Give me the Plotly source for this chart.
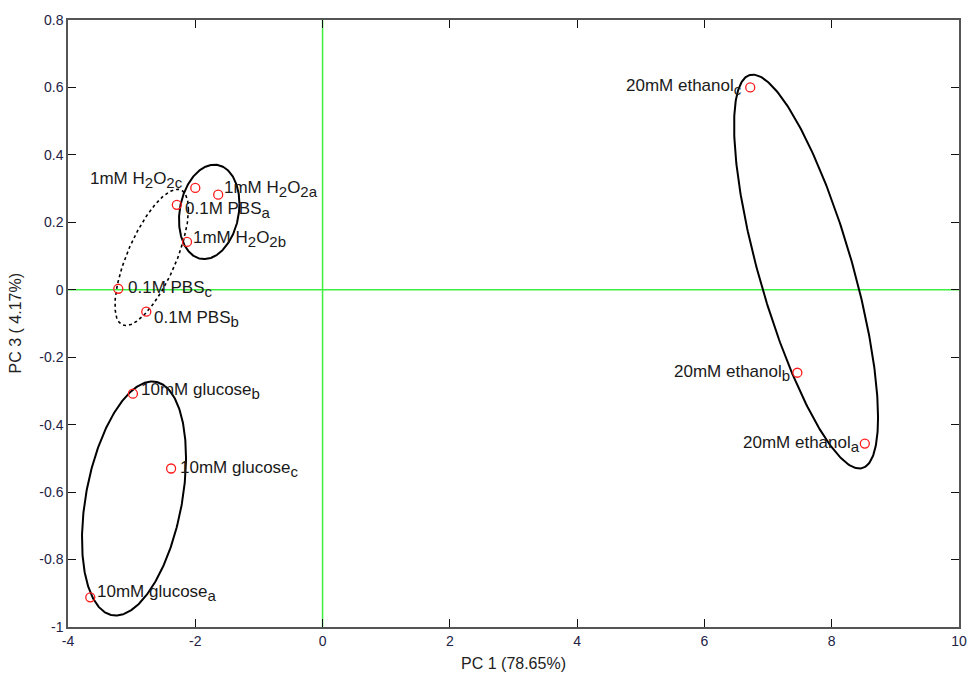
import numpy as np
import plotly.graph_objects as go

# PCA scores (PC1, PC3) for each sample
pc1 = [6.72, 7.46, 8.52, -2.98, -2.38, -3.65, -2.00, -1.64, -2.13, -2.29, -3.21, -2.77]
pc3 = [0.600, -0.246, -0.456, -0.308, -0.530, -0.912, 0.302, 0.282, 0.142, 0.252, 0.003, -0.065]
base_names = [
    "20mM ethanol", "20mM ethanol", "20mM ethanol",
    "10mM glucose", "10mM glucose", "10mM glucose",
    "1mM H|2|O", "1mM H|2|O", "1mM H|2|O",
    "0.1M PBS", "0.1M PBS", "0.1M PBS",
]
subscripts = ["c", "b", "a", "b", "c", "a", "2c", "2a", "2b", "a", "c", "b"]

# group ellipses: centre, half extents along x / y, correlation
ell_cx = [7.597, -2.963, -1.781, -2.685]
ell_cy = [0.054, -0.619, 0.231, 0.096]
ell_hx = [1.131, 0.817, 0.475, 0.577]
ell_hy = [0.584, 0.347, 0.140, 0.202]
ell_rho = [-0.74, 0.35, 0.17, 0.70]
ell_dash = ["solid", "solid", "solid", "dot"]

x_ticks = [-4, -2, 0, 2, 4, 6, 8, 10]
y_ticks = [-1, -0.8, -0.6, -0.4, -0.2, 0, 0.2, 0.4, 0.6, 0.8]
y_ticktext = ["-1", "-0.8", "-0.6", "-0.4", "-0.2", "0", "0.2", "0.4", "0.6", "0.8"]

x_title = "PC 1 (78.65%)"
y_title = "PC 3 ( 4.17%)"

# label placement: anchor side, x shift, y shift (px)
label_place = [
    ("right", -6, 0), ("right", -5, 0), ("right", -3, 0),
    ("left", 6, 3), ("left", 7, 0), ("left", 5, 4),
    ("right", -10, 8), ("left", 4, 6), ("left", 4, 3),
    ("left", 6, -5), ("left", 8, 0), ("left", 6, -7),
]

FONT = "Liberation Sans, Arial, sans-serif"
SUB = '<sub><span style="font-size:15px">{}</span></sub>'


def label_text(base, sub):
    parts = base.split("|")
    txt = parts[0]
    if len(parts) > 1:
        txt += SUB.format(parts[1]) + parts[2]
    return txt + SUB.format(sub)


fig = go.Figure()

# reference axes through the origin
fig.add_trace(go.Scatter(x=[-4, 10], y=[0, 0], mode="lines",
                         line=dict(color="#3ef03e", width=1.5), hoverinfo="skip"))
fig.add_trace(go.Scatter(x=[0, 0], y=[-1, 0.8], mode="lines",
                         line=dict(color="#3ef03e", width=1.5), hoverinfo="skip"))

t = np.linspace(0, 2 * np.pi, 361)
for cx, cy, hx, hy, rho, dash in zip(ell_cx, ell_cy, ell_hx, ell_hy, ell_rho, ell_dash):
    ex = cx + hx * np.cos(t)
    ey = cy + hy * (rho * np.cos(t) + np.sqrt(1 - rho ** 2) * np.sin(t))
    fig.add_trace(go.Scatter(x=ex, y=ey, mode="lines",
                             line=dict(color="black", width=2 if dash == "solid" else 1.6, dash=dash),
                             hoverinfo="skip"))

fig.add_trace(go.Scatter(x=pc1, y=pc3, mode="markers",
                         marker=dict(symbol="circle-open", size=9, color="#ff1a1a",
                                     line=dict(width=1.3, color="#ff1a1a"))))

for x, y, base, sub, (side, dx, dy) in zip(pc1, pc3, base_names, subscripts, label_place):
    fig.add_annotation(x=x, y=y, text=label_text(base, sub), showarrow=False,
                       xanchor=side, yanchor="middle", xshift=dx, yshift=dy,
                       font=dict(family=FONT, size=17, color="#1a1a1a"))

# y-axis title, placed at the far left of the figure
fig.add_annotation(x=0, y=0.5, xref="paper", yref="paper", text=y_title,
                   textangle=-90, showarrow=False, xanchor="center", yanchor="middle",
                   xshift=-53, font=dict(family=FONT, size=16, color="#222222"))

axis_common = dict(showgrid=False, zeroline=False, showline=True, linecolor="#555555",
                   linewidth=1.5, mirror="ticks", ticks="inside", ticklen=8,
                   tickcolor="#111111", tickwidth=1.2, automargin=False,
                   tickfont=dict(family=FONT, size=14, color="#222244"))

fig.update_layout(
    width=969, height=673,
    margin=dict(l=68, r=10, t=20, b=46),
    plot_bgcolor="white", paper_bgcolor="white",
    showlegend=False,
    xaxis=dict(range=[-4, 10], tickvals=x_ticks, ticktext=[str(v) for v in x_ticks],
               title=dict(text=x_title, font=dict(family=FONT, size=16, color="#222222"),
                          standoff=10),
               **axis_common),
    yaxis=dict(range=[-1, 0.8], tickvals=y_ticks, ticktext=y_ticktext, **axis_common),
)

fig.write_html("out.html")
